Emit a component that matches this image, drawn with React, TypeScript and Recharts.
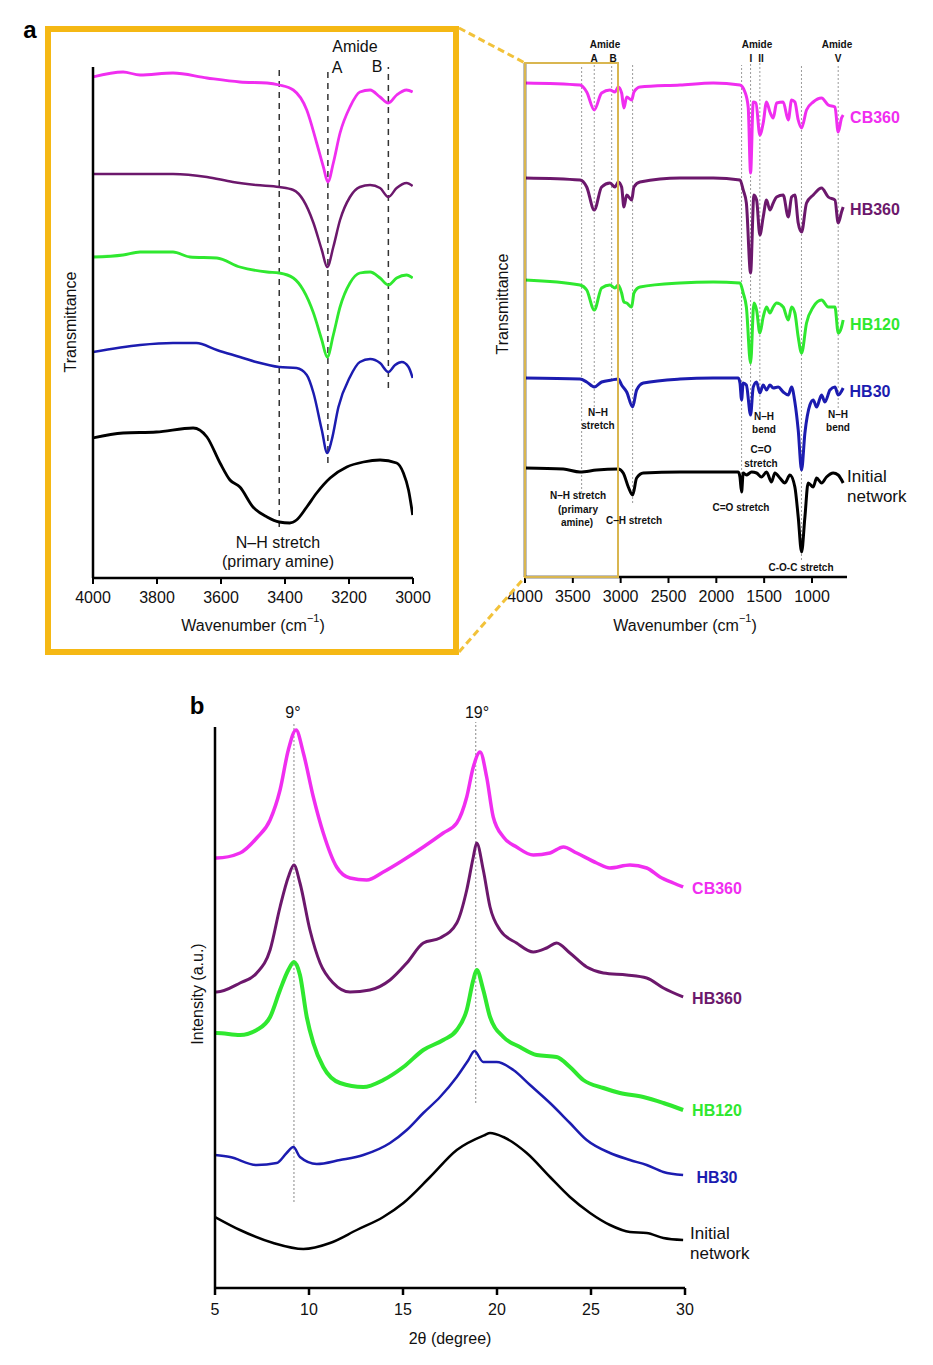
import { LineChart, Line, XAxis, YAxis, ReferenceLine } from "recharts";

const FONT = "'Liberation Sans', Arial, Helvetica, sans-serif";

const COLORS = {
  cb360: "#f02ef0",
  hb360: "#6c186c",
  hb120: "#2fe82f",
  hb30: "#1c1cb0",
  initial: "#000000",
};

// ---- panel a, left: FTIR 4000-3000 cm-1 (wavenumber, transmittance a.u. with offsets)
const zoomTicks = [4000, 3800, 3600, 3400, 3200, 3000];
const zoomCB360 = [
  [4000, 501], [3906, 506], [3853, 503], [3750, 505], [3644, 500], [3541, 496], [3456, 495],
  [3418, 493], [3374, 488], [3332, 468], [3301, 435], [3280, 411], [3266, 396], [3249, 415],
  [3228, 445], [3197, 471], [3166, 486], [3134, 488], [3103, 481], [3077, 475], [3051, 483],
  [3020, 488], [3001, 486],
];
const zoomHB360 = [
  [4000, 404], [3853, 404], [3750, 404], [3644, 401], [3563, 396], [3490, 393], [3418, 391],
  [3374, 388], [3343, 378], [3311, 355], [3285, 328], [3268, 311], [3249, 331], [3228, 358],
  [3197, 381], [3166, 391], [3134, 393], [3103, 390], [3077, 381], [3051, 390], [3020, 395],
  [3001, 392],
];
const zoomHB120 = [
  [4000, 321], [3906, 323], [3853, 326], [3750, 326], [3697, 321], [3613, 320], [3541, 311],
  [3456, 306], [3418, 305], [3374, 300], [3343, 288], [3311, 265], [3285, 238], [3268, 221],
  [3249, 243], [3228, 271], [3197, 295], [3166, 305], [3134, 306], [3103, 300], [3077, 293],
  [3051, 300], [3020, 303], [3001, 300],
];
const zoomHB30 = [
  [4000, 226], [3853, 233], [3750, 235], [3677, 235], [3613, 228], [3541, 221], [3490, 216],
  [3418, 211], [3364, 210], [3332, 203], [3311, 185], [3285, 148], [3268, 125], [3254, 138],
  [3233, 171], [3197, 201], [3166, 216], [3134, 219], [3103, 215], [3077, 206], [3056, 213],
  [3035, 216], [3014, 211], [3001, 200],
];
const zoomInitial = [
  [4000, 140], [3906, 145], [3802, 146], [3687, 150], [3644, 141], [3603, 115], [3572, 98],
  [3541, 91], [3500, 71], [3456, 61], [3418, 56], [3385, 55], [3364, 58], [3332, 71],
  [3301, 85], [3259, 100], [3207, 111], [3155, 116], [3103, 118], [3051, 115], [3030, 105],
  [3014, 88], [3001, 63],
];
// dashed markers: [wavenumber, bottom, top]
const zoomMarkers = [
  [3418, 51, 511],
  [3266, 115, 511],
  [3077, 190, 511],
];

// ---- panel a, right: full FTIR spectrum
const fullTicks = [4000, 3500, 3000, 2500, 2000, 1500, 1000];
const fullCB360 = [
  [4000, 494], [3425, 492], [3355, 485], [3276, 467], [3199, 484], [3112, 487], [3060, 485],
  [3025, 490], [2990, 484], [2966, 469], [2937, 480], [2885, 477], [2861, 485], [2798, 490],
  [2380, 492], [2032, 494], [1753, 492], [1701, 485], [1667, 470], [1642, 404], [1614, 475],
  [1586, 474], [1545, 442], [1510, 454], [1475, 475], [1440, 465], [1405, 459], [1370, 474],
  [1301, 475], [1248, 457], [1213, 477], [1179, 475], [1144, 457], [1109, 449], [1057, 467],
  [987, 475], [900, 479], [830, 472], [760, 470], [726, 445], [691, 459], [674, 462],
];
const fullHB360 = [
  [4000, 399], [3425, 397], [3355, 390], [3276, 367], [3199, 390], [3112, 394], [3060, 390],
  [3025, 395], [2990, 390], [2966, 370], [2937, 382], [2885, 377], [2861, 390], [2798, 395],
  [2380, 399], [2032, 399], [1753, 397], [1719, 387], [1686, 374], [1642, 304], [1607, 382],
  [1579, 377], [1545, 342], [1510, 360], [1475, 377], [1440, 367], [1405, 374], [1370, 380],
  [1301, 382], [1248, 360], [1213, 380], [1179, 382], [1144, 354], [1109, 345], [1057, 374],
  [987, 382], [900, 389], [830, 380], [760, 377], [726, 354], [691, 365], [674, 370],
];
const fullHB120 = [
  [4000, 297], [3425, 292], [3355, 287], [3276, 267], [3199, 289], [3112, 292], [3060, 289],
  [3025, 292], [2990, 284], [2966, 275], [2937, 274], [2885, 270], [2861, 284], [2798, 290],
  [2380, 294], [2032, 295], [1753, 294], [1719, 284], [1686, 270], [1642, 214], [1607, 274],
  [1579, 267], [1545, 244], [1510, 260], [1475, 270], [1440, 264], [1405, 270], [1370, 274],
  [1301, 270], [1248, 257], [1213, 270], [1179, 264], [1144, 240], [1109, 224], [1057, 254],
  [987, 270], [900, 277], [830, 270], [760, 270], [726, 244], [691, 250], [674, 257],
];
const fullHB30 = [
  [4000, 199], [3425, 198], [3355, 195], [3276, 190], [3199, 195], [3094, 197], [3025, 198],
  [2990, 192], [2937, 185], [2875, 170], [2833, 187], [2763, 194], [2380, 198], [2032, 199],
  [1770, 199], [1753, 194], [1736, 177], [1719, 194], [1686, 192], [1642, 162], [1614, 190],
  [1579, 195], [1545, 184], [1510, 192], [1475, 187], [1440, 192], [1405, 189], [1353, 190],
  [1301, 185], [1248, 182], [1213, 190], [1179, 175], [1144, 147], [1109, 107], [1074, 144],
  [1022, 172], [987, 177], [952, 170], [900, 182], [865, 175], [812, 187], [760, 190],
  [726, 182], [674, 189],
];
const fullInitial = [
  [4000, 109], [3600, 108], [3425, 105], [3251, 107], [3025, 108], [2973, 104], [2920, 90],
  [2875, 82], [2833, 99], [2763, 104], [2380, 105], [2032, 105], [1770, 105], [1753, 100],
  [1736, 85], [1719, 104], [1686, 102], [1631, 105], [1579, 104], [1527, 100], [1475, 105],
  [1423, 95], [1388, 104], [1336, 99], [1283, 94], [1231, 102], [1179, 90], [1144, 60],
  [1109, 25], [1074, 60], [1040, 94], [987, 90], [952, 99], [900, 94], [848, 100],
  [778, 104], [726, 102], [674, 94],
];
const fullMarkers = [
  [3408, 84, 512],
  [3276, 170, 514],
  [3094, 197, 514],
  [2875, 74, 512],
  [1736, 87, 512],
  [1642, 167, 515],
  [1545, 164, 515],
  [1110, 17, 512],
  [726, 169, 512],
];

// ---- panel b: XRD (2theta in degrees, intensity a.u. with offsets)
const xrdTicks = [5, 10, 15, 20, 25, 30];
const xrdCB360 = [
  [5.0, 430], [5.09, 430], [6.33, 435], [7.22, 450], [7.93, 468], [8.46, 498], [8.9, 538],
  [9.31, 558], [9.7, 535], [10.23, 491], [10.76, 455], [11.47, 421], [12.18, 410], [13.07, 408],
  [13.95, 416], [15.02, 428], [16.08, 441], [17.14, 455], [17.86, 465], [18.39, 491],
  [18.74, 521], [19.1, 536], [19.45, 511], [19.8, 471], [20.34, 451], [21.04, 441], [21.93, 433],
  [22.82, 435], [23.53, 441], [24.24, 435], [25.3, 425], [26.0, 420], [27.07, 423], [27.96, 420],
  [28.67, 411], [29.38, 405], [29.9, 401],
];
const xrdHB360 = [
  [5.0, 296], [5.09, 296], [6.33, 305], [7.22, 315], [7.93, 338], [8.46, 381], [8.9, 411],
  [9.2, 423], [9.52, 405], [10.05, 358], [10.59, 325], [11.29, 305], [12.18, 296], [13.24, 298],
  [14.31, 308], [15.2, 325], [16.08, 345], [16.97, 350], [17.86, 365], [18.39, 398], [18.74, 431],
  [18.92, 445], [19.27, 418], [19.63, 381], [20.16, 358], [21.04, 345], [21.93, 336], [22.64, 340],
  [23.17, 345], [23.88, 335], [24.77, 321], [25.66, 315], [26.9, 313], [27.96, 310], [28.85, 300],
  [29.9, 291],
];
const xrdHB120 = [
  [5.0, 255], [5.09, 255], [6.33, 253], [7.22, 258], [7.93, 271], [8.46, 298], [8.9, 318],
  [9.2, 326], [9.52, 313], [9.88, 271], [10.23, 245], [10.76, 221], [11.65, 205], [12.89, 201],
  [13.95, 208], [15.02, 221], [16.08, 238], [17.14, 248], [17.86, 258], [18.39, 278], [18.74, 308],
  [18.92, 318], [19.27, 298], [19.63, 271], [20.34, 251], [21.22, 241], [22.11, 233], [23.17, 231],
  [23.88, 221], [24.59, 208], [25.66, 200], [26.54, 195], [27.78, 191], [28.85, 185], [29.9, 178],
];
const xrdHB30 = [
  [5.0, 133], [5.8, 131], [7.22, 123], [8.28, 125], [8.81, 135], [9.17, 141], [9.52, 131],
  [10.41, 124], [11.65, 128], [12.89, 133], [14.31, 145], [15.2, 158], [16.08, 175], [16.97, 191],
  [17.86, 211], [18.48, 228], [18.8, 237], [19.27, 226], [19.98, 226], [20.87, 218], [21.76, 203],
  [22.82, 185], [23.88, 165], [24.77, 148], [26.01, 135], [27.07, 128], [27.96, 123], [28.85, 116],
  [29.9, 113],
];
const xrdInitial = [
  [5.0, 71], [6.33, 58], [8.1, 45], [9.7, 39], [11.12, 45], [12.54, 58], [13.95, 71],
  [15.02, 85], [16.44, 111], [17.86, 138], [19.36, 153], [19.63, 155], [20.34, 151], [21.58, 135],
  [22.82, 111], [23.88, 91], [24.95, 75], [26.01, 63], [27.07, 56], [27.96, 55], [28.85, 50],
  [29.9, 48],
];
const xrdMarkers = [
  [9.2, 86, 566],
  [18.87, 185, 566],
];

const pts = (a: number[][]) => a.map(([x, y]) => ({ x, y }));

const axisStyle = { stroke: "#000", strokeWidth: 2.5 };
const tickStyle = { fontSize: 16, fill: "#111", fontFamily: FONT };

function Trace({ data, color, width = 2.5 }: { data: number[][]; color: string; width?: number }) {
  return (
    <Line
      data={pts(data)}
      dataKey="y"
      type="monotone"
      stroke={color}
      strokeWidth={width}
      dot={false}
      isAnimationActive={false}
    />
  );
}

function markerLines(list: number[][], stroke: string, dash: string, width: number) {
  return list.map(([x, y0, y1]) => (
    <ReferenceLine
      key={x}
      segment={[{ x, y: y0 }, { x, y: y1 }]}
      stroke={stroke}
      strokeDasharray={dash}
      strokeWidth={width}
      ifOverflow="visible"
    />
  ));
}

function T({
  x, y, children, size = 16, weight = "normal", fill = "#111", anchor = "middle", rotate,
}: {
  x: number; y: number; children: any; size?: number; weight?: string; fill?: string;
  anchor?: "start" | "middle" | "end"; rotate?: number;
}) {
  return (
    <text
      x={x}
      y={y}
      fontSize={size}
      fontWeight={weight}
      fill={fill}
      textAnchor={anchor}
      dominantBaseline="central"
      fontFamily={FONT}
      transform={rotate ? `rotate(${rotate} ${x} ${y})` : undefined}
    >
      {children}
    </text>
  );
}

const Wavenumber = ({ x, y }: { x: number; y: number }) => (
  <T x={x} y={y}>
    Wavenumber (cm
    <tspan dy={-7} fontSize={11}>−1</tspan>
    <tspan dy={7}>)</tspan>
  </T>
);

export default function App() {
  return (
    <div style={{ position: "absolute", left: 0, top: 0, width: 933, height: 1365, background: "#fff" }}>
      {/* a: zoomed FTIR */}
      <div style={{ position: "absolute", left: 0, top: 0 }}>
        <LineChart width={470} height={660} margin={{ top: 67, right: 57, bottom: 22, left: 83 }}>
          <XAxis
            type="number"
            dataKey="x"
            domain={[3000, 4000]}
            reversed
            allowDataOverflow
            ticks={zoomTicks}
            height={60}
            tickSize={6}
            tickMargin={8}
            axisLine={axisStyle}
            tickLine={{ stroke: "#000", strokeWidth: 2 }}
            tick={tickStyle}
          />
          <YAxis type="number" domain={[0, 511]} allowDataOverflow width={10} tick={false} tickLine={false} axisLine={axisStyle} />
          {markerLines(zoomMarkers, "#333", "6 5", 1.5)}
          <Trace data={zoomCB360} color={COLORS.cb360} width={2.8} />
          <Trace data={zoomHB360} color={COLORS.hb360} />
          <Trace data={zoomHB120} color={COLORS.hb120} width={2.8} />
          <Trace data={zoomHB30} color={COLORS.hb30} />
          <Trace data={zoomInitial} color={COLORS.initial} width={2.8} />
        </LineChart>
      </div>

      {/* a: full FTIR */}
      <div style={{ position: "absolute", left: 470, top: 0 }}>
        <LineChart width={463} height={660} margin={{ top: 63, right: 86, bottom: 23, left: 45 }}>
          <XAxis
            type="number"
            dataKey="x"
            domain={[634, 4000]}
            reversed
            allowDataOverflow
            ticks={fullTicks}
            height={60}
            tickSize={6}
            tickMargin={8}
            axisLine={axisStyle}
            tickLine={{ stroke: "#000", strokeWidth: 2 }}
            tick={tickStyle}
          />
          <YAxis type="number" domain={[0, 514]} allowDataOverflow width={10} tick={false} tickLine={false} axisLine={axisStyle} />
          {markerLines(fullMarkers, "#9a9a9a", "2 2", 1)}
          <Trace data={fullCB360} color={COLORS.cb360} width={3} />
          <Trace data={fullHB360} color={COLORS.hb360} width={3} />
          <Trace data={fullHB120} color={COLORS.hb120} width={3} />
          <Trace data={fullHB30} color={COLORS.hb30} width={3} />
          <Trace data={fullInitial} color={COLORS.initial} width={3} />
        </LineChart>
      </div>

      {/* b: XRD */}
      <div style={{ position: "absolute", left: 0, top: 680 }}>
        <LineChart width={933} height={685} margin={{ top: 47, right: 248, bottom: 17, left: 205 }}>
          <XAxis
            type="number"
            dataKey="x"
            domain={[5, 30]}
            allowDataOverflow
            ticks={xrdTicks}
            height={60}
            tickSize={7}
            tickMargin={9}
            axisLine={axisStyle}
            tickLine={{ stroke: "#000", strokeWidth: 2.5 }}
            tick={tickStyle}
          />
          <YAxis type="number" domain={[0, 561]} allowDataOverflow width={10} tick={false} tickLine={false} axisLine={axisStyle} />
          {markerLines(xrdMarkers, "#888", "2 2", 1)}
          <Trace data={xrdCB360} color={COLORS.cb360} width={3.5} />
          <Trace data={xrdHB360} color={COLORS.hb360} width={3} />
          <Trace data={xrdHB120} color={COLORS.hb120} width={4} />
          <Trace data={xrdHB30} color={COLORS.hb30} width={2.5} />
          <Trace data={xrdInitial} color={COLORS.initial} width={2.5} />
        </LineChart>
      </div>

      {/* frames, connectors and annotations */}
      <svg width={933} height={1365} style={{ position: "absolute", left: 0, top: 0, pointerEvents: "none" }}>
        <rect x={48} y={29} width={408} height={623} fill="none" stroke="#f5b814" strokeWidth={6} />
        <rect x={525} y={63} width={93} height={514} fill="none" stroke="#d9b650" strokeWidth={2} />
        <line x1={459} y1={28} x2={525} y2={63} stroke="#f2c23a" strokeWidth={3} strokeDasharray="7 4" />
        <line x1={459} y1={652} x2={525} y2={577} stroke="#f2c23a" strokeWidth={3} strokeDasharray="7 4" />

        <T x={30} y={29} size={24} weight="bold" fill="#000">a</T>
        <T x={197} y={705} size={24} weight="bold" fill="#000">b</T>

        {/* left panel */}
        <T x={355} y={46}>Amide</T>
        <T x={337} y={67}>A</T>
        <T x={377} y={66}>B</T>
        <T x={278} y={542}>N–H stretch</T>
        <T x={278} y={561}>(primary amine)</T>
        <T x={70} y={322} rotate={-90}>Transmittance</T>
        <Wavenumber x={253} y={625} />

        {/* right panel */}
        <T x={605} y={44} size={10} weight="bold">Amide</T>
        <T x={594} y={58} size={10} weight="bold">A</T>
        <T x={613} y={58} size={10} weight="bold">B</T>
        <T x={757} y={44} size={10} weight="bold">Amide</T>
        <T x={751} y={58} size={10} weight="bold">I</T>
        <T x={761} y={58} size={10} weight="bold">II</T>
        <T x={837} y={44} size={10} weight="bold">Amide</T>
        <T x={838} y={58} size={10} weight="bold">V</T>
        <T x={598} y={412} size={10} weight="bold">N–H</T>
        <T x={598} y={425} size={10} weight="bold">stretch</T>
        <T x={764} y={416} size={10} weight="bold">N–H</T>
        <T x={764} y={429} size={10} weight="bold">bend</T>
        <T x={761} y={449} size={10} weight="bold">C=O</T>
        <T x={761} y={463} size={10} weight="bold">stretch</T>
        <T x={838} y={414} size={10} weight="bold">N–H</T>
        <T x={838} y={427} size={10} weight="bold">bend</T>
        <T x={578} y={495} size={10} weight="bold">N–H stretch</T>
        <T x={578} y={509} size={10} weight="bold">(primary</T>
        <T x={577} y={522} size={10} weight="bold">amine)</T>
        <T x={634} y={520} size={10} weight="bold">C–H stretch</T>
        <T x={741} y={507} size={10} weight="bold">C=O stretch</T>
        <T x={801} y={567} size={10} weight="bold">C-O-C stretch</T>
        <T x={875} y={117} weight="bold" fill={COLORS.cb360}>CB360</T>
        <T x={875} y={209} weight="bold" fill={COLORS.hb360}>HB360</T>
        <T x={875} y={324} weight="bold" fill={COLORS.hb120}>HB120</T>
        <T x={870} y={391} weight="bold" fill={COLORS.hb30}>HB30</T>
        <T x={847} y={476} size={17} anchor="start">Initial</T>
        <T x={847} y={496} size={17} anchor="start">network</T>
        <T x={502} y={304} rotate={-90}>Transmittance</T>
        <Wavenumber x={685} y={625} />

        {/* panel b */}
        <T x={293} y={712}>9°</T>
        <T x={477} y={712}>19°</T>
        <T x={717} y={888} weight="bold" fill={COLORS.cb360}>CB360</T>
        <T x={717} y={998} weight="bold" fill={COLORS.hb360}>HB360</T>
        <T x={717} y={1110} weight="bold" fill={COLORS.hb120}>HB120</T>
        <T x={717} y={1177} weight="bold" fill={COLORS.hb30}>HB30</T>
        <T x={690} y={1233} size={17} anchor="start">Initial</T>
        <T x={690} y={1253} size={17} anchor="start">network</T>
        <T x={197} y={994} rotate={-90}>Intensity (a.u.)</T>
        <T x={450} y={1338}>2θ (degree)</T>
      </svg>
    </div>
  );
}
